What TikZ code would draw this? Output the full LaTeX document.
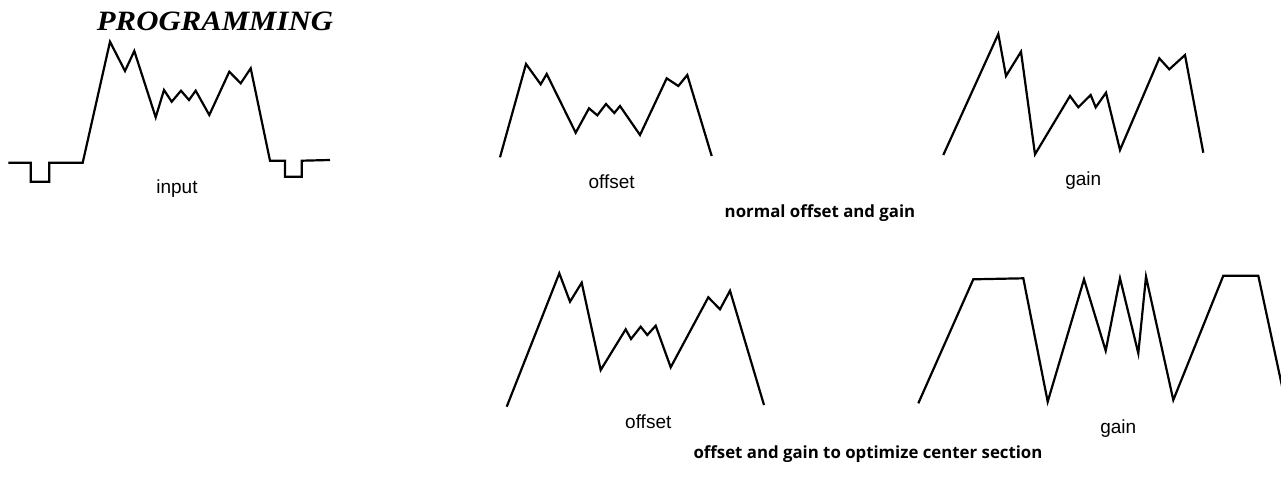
\documentclass[tikz,border=0pt]{standalone}
\usepackage{fontspec}
\setmainfont{Liberation Serif}
\setsansfont{Liberation Sans}
\newfontfamily\capfont{Open Sans}
\tikzset{
  wave/.style={line width=1.1pt, line join=miter, line cap=butt},
  lbl/.style={font=\sffamily\fontsize{9.5}{10}\selectfont, inner sep=0pt, anchor=base},
  capt/.style={font=\capfont\bfseries\fontsize{8.4}{9}\selectfont, inner sep=0pt, anchor=base},
  ttl/.style={font=\itshape\bfseries\fontsize{14}{15}\selectfont, inner sep=0pt, anchor=base, xscale=1.1}
}
\begin{document}
\begin{tikzpicture}[x=0.5pt,y=-0.5pt]
\useasboundingbox (0,0) rectangle (1281,478);
\begin{scope}
\clip (0,0) rectangle (1281,478);
% title
\node[ttl] (title) at (215,30) {PROGRAMMING};
% input waveform
\draw[wave] (8.3,162.7) -- (30.7,162.7) -- (30.7,181.7) -- (49.3,181.7) -- (49.3,162.7) -- (82.7,162.7)
  -- (110,41.7) -- (125,71) -- (134.3,51) -- (155.7,117.3) -- (164,90) -- (171.7,101.7) -- (181,90.7)
  -- (189,100) -- (195.7,90.7) -- (209.3,115) -- (229.3,71.7) -- (240.7,83.3) -- (250.7,68.3)
  -- (270,160.7) -- (285,160.7) -- (285,176.7) -- (301.7,176.7) -- (301.7,160.7) -- (330,160);
\node[lbl] (input) at (177,193) {input};
% offset (normal)
\draw[wave] (500,157.3) -- (526,64) -- (540.7,84.3) -- (546.7,74) -- (575.7,132.7) -- (589,108.3)
  -- (597.3,115.3) -- (606,104) -- (614.3,113) -- (620,106) -- (640,135) -- (666.7,78.3)
  -- (678.3,86) -- (687.3,75) -- (711.7,156);
\node[lbl] (off1) at (611.7,188.3) {offset};
% gain (normal)
\draw[wave] (943.3,155) -- (998.3,34) -- (1006,76) -- (1021,51.7) -- (1035,154.3) -- (1070,96)
  -- (1078.3,107.3) -- (1090.7,95) -- (1095.7,107.3) -- (1106,92.7) -- (1120,150) -- (1159.3,58.3)
  -- (1169.3,69.3) -- (1185,55) -- (1203.3,152.7);
\node[lbl] (gain1) at (1083.3,185) {gain};
\node[capt] (cap1) at (820,217) {normal offset and gain};
% offset (optimized)
\draw[wave] (506.7,406.7) -- (559.3,273.3) -- (570,301.7) -- (581.7,282.7) -- (600.7,370) -- (625.7,329.3)
  -- (631,339) -- (640.7,326.7) -- (647.3,335) -- (655.7,325.7) -- (670.7,367.3) -- (708.3,297.3)
  -- (720,309.3) -- (730,290.7) -- (764,405);
\node[lbl] (off2) at (648.3,428.3) {offset};
% gain (optimized)
\draw[wave] (918.3,403.3) -- (973.3,279.3) -- (1023.3,278.3) -- (1047.7,401.7) -- (1084,279.3)
  -- (1105.7,350.7) -- (1120,278.3) -- (1138.3,353.3) -- (1146,276.7) -- (1173.3,400)
  -- (1223.3,275.7) -- (1258.3,275.7) -- (1285,400);
\node[lbl] (gain2) at (1118.3,433) {gain};
\node[capt] (cap2) at (868,458) {offset and gain to optimize center section};
\end{scope}
\end{tikzpicture}
\end{document}
